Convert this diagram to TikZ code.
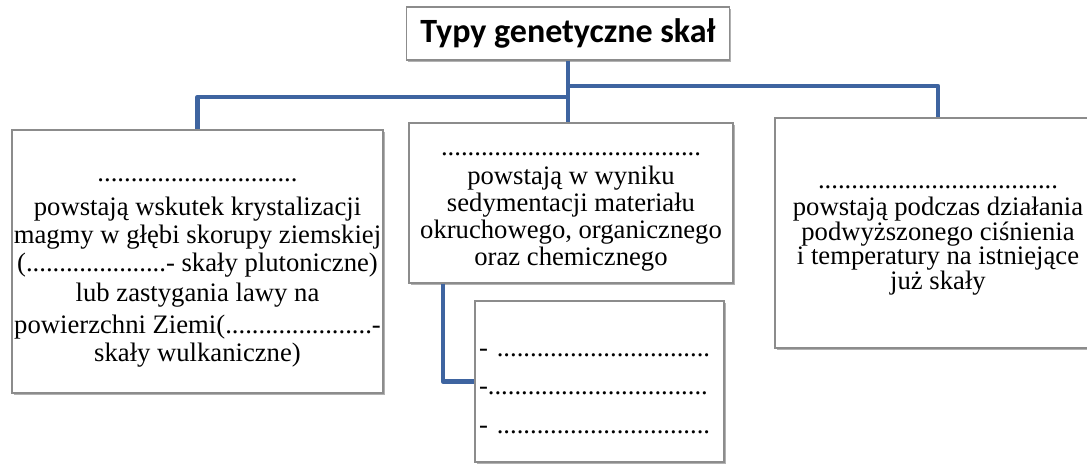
\documentclass[tikz,border=0pt]{standalone}
\usepackage{fontspec}
\setmainfont{Liberation Serif}
\newfontfamily\titlefont{Carlito}
\usetikzlibrary{shadows}
\definecolor{connblue}{HTML}{3E64A0}
\definecolor{boxgray}{HTML}{8C8C8C}
\begin{document}
\begin{tikzpicture}[x=0.75pt,y=-0.75pt,
  box/.style={draw=boxgray, line width=0.8pt, fill=white, rectangle, inner sep=0pt,
    drop shadow={shadow xshift=1.2pt, shadow yshift=-1.8pt, opacity=0.3, fill=black}},
  txt/.style={inner sep=0pt, align=center, font=\fontsize{20}{21}\selectfont},
  conn/.style={draw=connblue, line width=3.5pt, line join=round}]
\useasboundingbox (0,0) rectangle (1087,464);

\node[box, font=\titlefont\bfseries\fontsize{25.5}{28}\selectfont,
      minimum width=323*0.75pt, minimum height=53*0.75pt] (title) at (568,33.5) {Typy genetyczne skał};

\node[box, minimum width=371*0.75pt, minimum height=263*0.75pt] (left) at (197.5,261.5) {};
\node[txt] (lefttext) at ([yshift=-8.25pt]left.center)
 {..............................\\[4.5pt]
  powstają wskutek krystalizacji\\
  magmy w głębi skorupy ziemskiej\\
  (.....................- skały plutoniczne)\\[2pt]
  lub zastygania lawy na\\[2.5pt]
  powierzchni Ziemi(......................-\\
  skały wulkaniczne)};

\node[box, minimum width=324*0.75pt, minimum height=160*0.75pt] (mid) at (571,203) {};
\node[txt, font=\fontsize{20}{20.25}\selectfont] (midtext) at ([yshift=-6.75pt]mid.center)
 {.......................................\\[1.5pt]
  powstają w wyniku\\
  sedymentacji materiału\\
  okruchowego, organicznego\\
  oraz chemicznego};

\node[box, minimum width=326*0.75pt, minimum height=230*0.75pt] (right) at (938,233) {};
\node[txt, font=\fontsize{20}{18.4}\selectfont] (righttext) at ([yshift=-5.5pt]right.center)
 {....................................\\[2pt]
  powstają podczas działania\\
  podwyższonego ciśnienia\\
  i temperatury na istniejące\\
  już skały};

\node[box, minimum width=249*0.75pt, minimum height=161*0.75pt] (small) at (599.5,381.5) {};
\node[txt, font=\fontsize{20}{29}\selectfont, align=left, text width=182.25pt]
  (smalltext) at ([yshift=-7.5pt,xshift=0.75pt]small.center)
 {- ................................\\
  -.................................\\
  - ................................};

\draw[conn] (title.south) -- (title.south |- mid.north);
\draw[conn] (title.south |- 0,97) -| (left.north);
\draw[conn] (title.south |- 0,86) -| (right.north);
\draw[conn] (mid.south -| 443,0) |- (small.west);
\end{tikzpicture}
\end{document}
